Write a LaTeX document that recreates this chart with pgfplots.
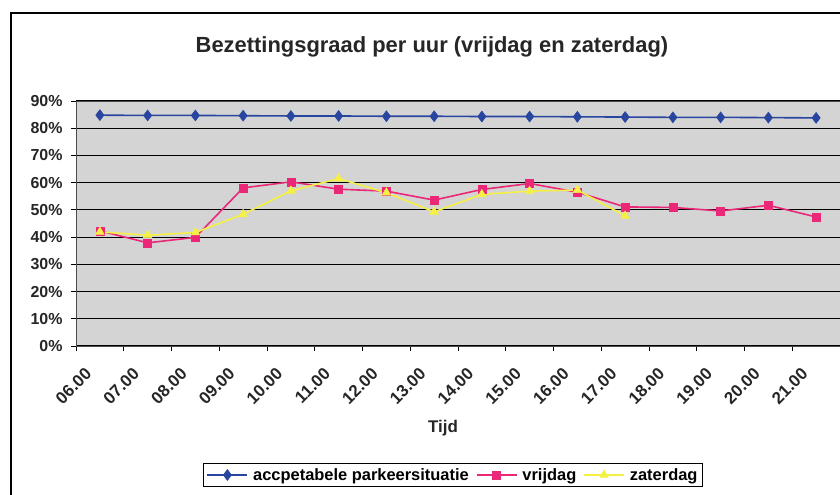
\documentclass[border=0pt]{standalone}
\usepackage{pgfplots}
\pgfplotsset{compat=1.18}
\usepackage{fontspec}
\setmainfont{Liberation Sans}
\definecolor{cblue}{RGB}{40,70,160}
\definecolor{cpink}{RGB}{235,40,120}
\definecolor{cyellow}{RGB}{245,240,70}
\definecolor{plotgray}{RGB}{212,212,212}
\begin{document}
\begin{tikzpicture}
\useasboundingbox (0,0) rectangle (840bp,-495bp);
\fill[white] (0,0) rectangle (840bp,-495bp);
\draw[line width=1.6bp] (11bp,-495bp) -- (11bp,-13bp) -- (840bp,-13bp);
\begin{axis}[
  at={(76bp,-346bp)}, anchor=south west,
  scale only axis, width=764bp, height=245bp,
  xmin=-0.5, xmax=15.5, ymin=0, ymax=90,
  axis background/.style={fill=plotgray},
  axis line style={draw=black!70, line width=0.8bp},
  ytick={0,10,...,90},
  yticklabels={0\%,10\%,20\%,30\%,40\%,50\%,60\%,70\%,80\%,90\%},
  ymajorgrids,
  grid style={black, line width=1.1bp},
  xtick={0,...,15},
  xticklabels={06.00,07.00,08.00,09.00,10.00,11.00,12.00,13.00,14.00,15.00,16.00,17.00,18.00,19.00,20.00,21.00},
  x tick style={draw=none},
  minor xtick={-0.5,0.5,...,15.5},
  minor x tick style={draw=black, line width=0.8bp},
  y tick style={draw=black, line width=0.8bp},
  tick align=outside,
  major tick length=5bp, minor tick length=5bp,
  xtick pos=bottom, ytick pos=left,
  ticklabel style={font=\fontsize{16}{16}\selectfont\bfseries, text=black!85},
  yticklabel style={xshift=-5bp},
  xticklabel style={font=\fontsize{17}{17}\selectfont\bfseries, rotate=45, anchor=east, inner sep=0pt, xshift=-22bp, yshift=-6bp},
  legend style={at={(0.4935,-0.5265)}, anchor=center, draw=black, line width=0.8bp,
    font=\fontsize{16.5}{16.5}\selectfont\bfseries, inner sep=3bp,
    /tikz/every odd column/.append style={column sep=3bp},
    /tikz/every even column/.append style={column sep=5bp}},
  legend columns=3,
  legend image code/.code={\draw[mark repeat=2,mark phase=2] plot coordinates {(0bp,0bp) (20bp,0bp) (40bp,0bp)};},
]
\addplot[cblue, line width=1.6bp, mark=diamond*, mark size=5.5bp, mark options={fill=cblue, line width=0.5bp}] coordinates {
(0,84.8) (1,84.7) (2,84.7) (3,84.6) (4,84.5) (5,84.5) (6,84.4) (7,84.4)
(8,84.3) (9,84.3) (10,84.2) (11,84.1) (12,84.0) (13,84.0) (14,83.9) (15,83.8)};
\addlegendentry{accpetabele parkeersituatie}
\addplot[cpink, line width=1.6bp, mark=square*, mark size=4bp, mark options={fill=cpink, line width=0.5bp}] coordinates {
(0,42.3) (1,37.9) (2,39.9) (3,58.1) (4,60.3) (5,57.6) (6,56.9) (7,53.6)
(8,57.5) (9,59.7) (10,56.5) (11,51.1) (12,50.9) (13,49.6) (14,51.7) (15,47.4)};
\addlegendentry{vrijdag}
\addplot[cyellow, line width=1.6bp, mark=triangle*, mark size=5bp, mark options={fill=cyellow, line width=0.5bp}] coordinates {
(0,41.9) (1,40.7) (2,41.7) (3,48.4) (4,57.0) (5,61.5) (6,56.3) (7,49.3)
(8,55.7) (9,56.9) (10,57.3) (11,47.8)};
\addlegendentry{zaterdag}
\end{axis}
\node[font=\fontsize{22}{22}\selectfont\bfseries, text=black!85] at (432bp,-47bp) {Bezettingsgraad per uur (vrijdag en zaterdag)};
\node[font=\fontsize{17}{17}\selectfont\bfseries, text=black!85] at (443bp,-428bp) {Tijd};
\end{tikzpicture}
\end{document}
